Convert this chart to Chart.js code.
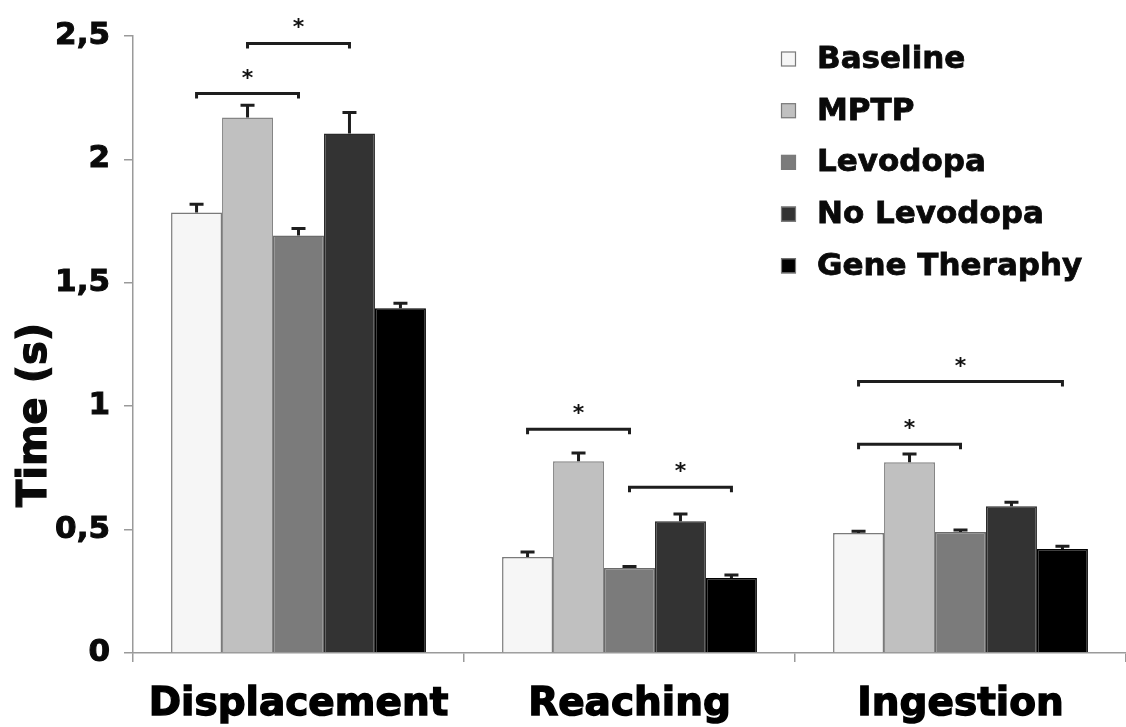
<!DOCTYPE html>
<html><head><meta charset="utf-8">
<script src="https://cdn.jsdelivr.net/npm/chart.js@4.4.0/dist/chart.umd.min.js"></script>
<style>html,body{margin:0;padding:0;background:#fff;}#wrap{position:relative;width:1126px;height:727px;}</style>
</head><body><div id="wrap"><canvas id="c"></canvas></div>
<script>
// ---- data ----
const categories = ['Displacement', 'Reaching', 'Ingestion'];
const seriesNames = ['Baseline', 'MPTP', 'Levodopa', 'No Levodopa', 'Gene Theraphy'];
const baseline    = [1.785, 0.389, 0.486];
const mptp        = [2.170, 0.777, 0.773];
const levodopa    = [1.692, 0.344, 0.490];
const noLevodopa  = [2.105, 0.534, 0.595];
const geneTherapy = [1.397, 0.304, 0.421];
const baselineErr    = [0.033, 0.020, 0.007];
const mptpErr        = [0.049, 0.033, 0.033];
const levodopaErr    = [0.028, 0.006, 0.008];
const noLevodopaErr  = [0.085, 0.029, 0.016];
const geneTherapyErr = [0.020, 0.012, 0.012];
const yTickValues = [0, 0.5, 1, 1.5, 2, 2.5];
const yTickLabels = ['0', '0,5', '1', '1,5', '2', '2,5'];
const yTitle = 'Time (s)';
// significance brackets: category index, from series, to series, height
const sigCategory = [0, 0, 1, 1, 2, 2];
const sigFrom     = [0, 1, 0, 2, 0, 0];
const sigTo       = [2, 3, 2, 4, 4, 2];
const sigLevel    = [2.267, 2.470, 0.907, 0.672, 1.100, 0.846];
const sigMark     = ['*', '*', '*', '*', '*', '*'];

const seriesValues = [baseline, mptp, levodopa, noLevodopa, geneTherapy];
const seriesErrors = [baselineErr, mptpErr, levodopaErr, noLevodopaErr, geneTherapyErr];
const fills = ['#f6f6f6', '#c0c0c0', '#7b7b7b', '#333333', '#000000'];
const borders = ['#7a7a7a', '#858585', '#6a6a6a', '#2a2a2a', '#000000'];
const FONT = '"DejaVu Sans", "Liberation Sans", Arial, sans-serif';

const extras = {
  id: 'extras',
  afterDatasetsDraw(chart) {
    const ctx = chart.ctx;
    const y = chart.scales.y;
    ctx.save();
    // error bars
    ctx.strokeStyle = '#1e1e1e';
    ctx.lineWidth = 3;
    seriesValues.forEach((vals, s) => {
      const meta = chart.getDatasetMeta(s);
      vals.forEach((v, c) => {
        const bar = meta.data[c];
        const top = y.getPixelForValue(v);
        const et = y.getPixelForValue(v + seriesErrors[s][c]);
        ctx.beginPath();
        ctx.moveTo(bar.x, top);
        ctx.lineTo(bar.x, et);
        ctx.moveTo(bar.x - 7, et);
        ctx.lineTo(bar.x + 7, et);
        ctx.stroke();
      });
    });
    // significance brackets
    ctx.lineWidth = 3;
    ctx.fillStyle = '#111';
    ctx.font = 'bold 22px ' + FONT;
    ctx.textAlign = 'center';
    ctx.textBaseline = 'alphabetic';
    sigCategory.forEach((c, k) => {
      const x1 = chart.getDatasetMeta(sigFrom[k]).data[c].x;
      const x2 = chart.getDatasetMeta(sigTo[k]).data[c].x;
      const py = y.getPixelForValue(sigLevel[k]);
      ctx.beginPath();
      ctx.moveTo(x1, py + 5);
      ctx.lineTo(x1, py);
      ctx.lineTo(x2, py);
      ctx.lineTo(x2, py + 5);
      ctx.stroke();
      ctx.fillText(sigMark[k], (x1 + x2) / 2, py - 9);
    });
    ctx.restore();
  },
  afterDraw(chart) {
    const ctx = chart.ctx;
    ctx.save();
    // legend
    ctx.font = 'bold 31px ' + FONT;
    ctx.textBaseline = 'middle';
    ctx.textAlign = 'left';
    chart.data.datasets.forEach((ds, i) => {
      const cy = 59 + i * 51.7;
      ctx.fillStyle = ds.backgroundColor;
      ctx.fillRect(781, cy - 7.5, 15, 15);
      ctx.strokeStyle = '#7a7a7a';
      ctx.lineWidth = 1.2;
      ctx.strokeRect(781.5, cy - 7, 14, 14);
      ctx.fillStyle = '#0a0a0a';
      ctx.strokeStyle = '#0a0a0a';
      ctx.lineWidth = 0.8;
      ctx.fillText(ds.label, 817, cy + 1);
      ctx.strokeText(ds.label, 817, cy + 1);
    });
    // y axis title
    ctx.translate(36, 415);
    ctx.rotate(-Math.PI / 2);
    ctx.font = 'bold 40px ' + FONT;
    ctx.textAlign = 'center';
    ctx.textBaseline = 'middle';
    ctx.fillStyle = '#0a0a0a';
    ctx.strokeStyle = '#0a0a0a';
    ctx.lineWidth = 1.2;
    ctx.fillText(yTitle, 0, 0);
    ctx.strokeText(yTitle, 0, 0);
    ctx.restore();
  }
};

new Chart(document.getElementById('c'), {
  type: 'bar',
  data: {
    labels: categories,
    datasets: seriesNames.map((name, i) => ({
      label: name,
      data: seriesValues[i],
      backgroundColor: fills[i],
      borderColor: borders[i],
      borderWidth: 1.5,
      categoryPercentage: 0.77,
      barPercentage: 1.0
    }))
  },
  options: {
    responsive: true,
    maintainAspectRatio: false,
    animation: false,
    devicePixelRatio: 1,
    layout: { padding: { top: 36, left: 0, right: 0, bottom: 0 } },
    plugins: { legend: { display: false }, tooltip: { enabled: false } },
    scales: {
      x: {
        grid: { display: true, drawOnChartArea: false, drawTicks: true, tickLength: 9, color: '#9a9a9a', lineWidth: 1.5, offset: true },
        border: { display: true, color: '#9a9a9a', width: 1.5 },
        ticks: { color: '#000', font: { family: FONT, size: 39, weight: 'bold' }, padding: 19, maxRotation: 0, textStrokeColor: '#000', textStrokeWidth: 1.4 },
        afterFit: s => { s.height = 74; }
      },
      y: {
        min: 0, max: 2.5,
        afterBuildTicks: s => { s.ticks = yTickValues.map(v => ({ value: v })); },
        grid: { display: true, drawOnChartArea: false, drawTicks: true, tickLength: 9, color: '#9a9a9a', lineWidth: 1.5 },
        border: { display: true, color: '#9a9a9a', width: 1.5 },
        ticks: {
          color: '#0a0a0a', padding: 14,
          font: { family: FONT, size: 31, weight: 'bold' },
          textStrokeColor: '#0a0a0a', textStrokeWidth: 1,
          callback: v => { const k = yTickValues.indexOf(v); return k >= 0 ? yTickLabels[k] : ''; }
        },
        afterFit: s => { s.width = 133; }
      }
    }
  },
  plugins: [extras]
});
</script></body></html>
